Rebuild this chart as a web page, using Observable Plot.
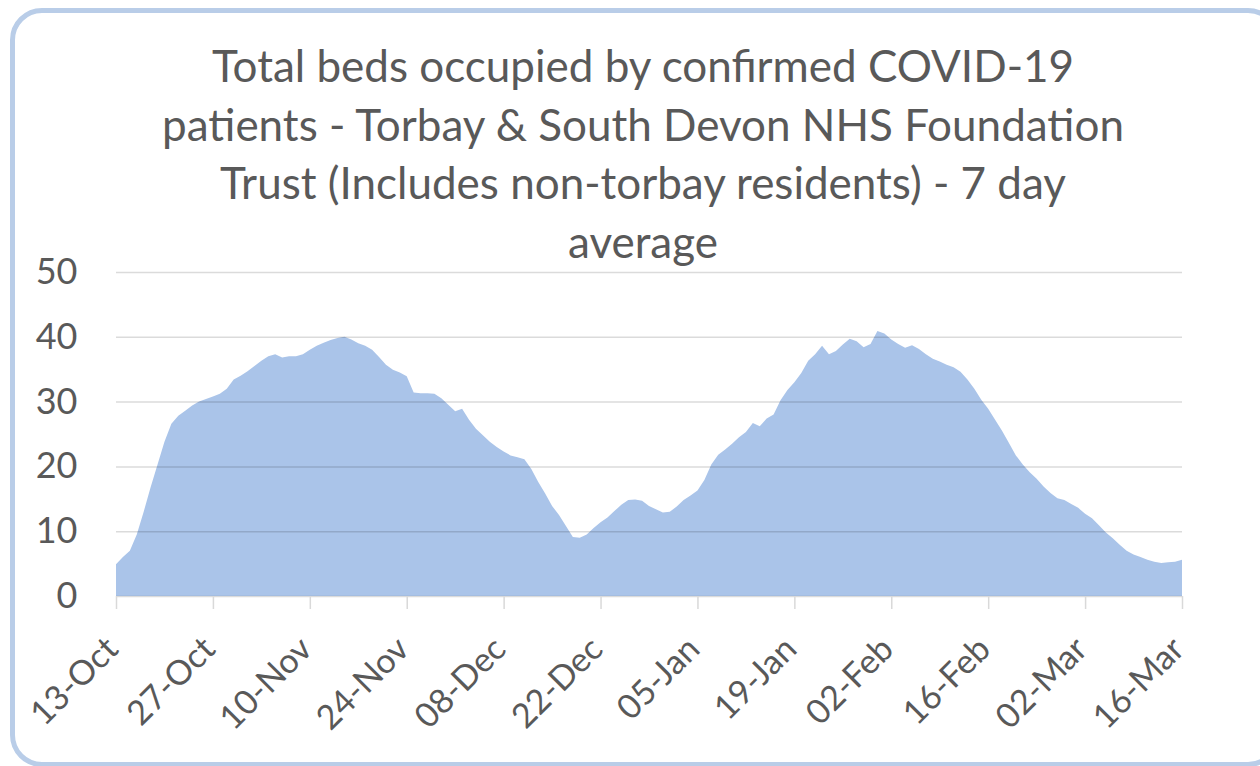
<!DOCTYPE html>
<html>
<head>
<meta charset="utf-8">
<script src="https://cdn.jsdelivr.net/npm/d3@7"></script>
<script src="https://cdn.jsdelivr.net/npm/@observablehq/plot@0.6"></script>
<style>
  html, body { margin: 0; padding: 0; background: #fff; }
  #wrap { position: relative; width: 1260px; height: 766px; overflow: hidden; font-family: Lato, "Open Sans", sans-serif; }
  #frame { position: absolute; left: 10px; top: 8px; width: 1260px; height: 749px; border: 5px solid #b9cde8; border-radius: 32px; box-sizing: content-box; }
  #title { position: absolute; left: 0; width: 1286px; top: 36px; text-align: center; font-size: 44px; line-height: 58.7px; color: #595959; }
  #chart { position: absolute; left: 0; top: 0; }
</style>
</head>
<body>
<div id="wrap">
  <div id="frame"></div>
  <div id="chart"></div>
  <div id="title">Total beds occupied by confirmed COVID-19<br>patients - Torbay &amp; South Devon NHS Foundation<br>Trust (Includes non-torbay residents) - 7 day<br>average</div>
</div>
<script>
// First date of the series (13-Oct-2020), one value per day
const startDate = "2020-10-13";
const values = [
  4.9, 6.0, 7.0, 9.5, 13.0, 16.8, 20.3, 23.8, 26.6, 27.8,
  28.6, 29.4, 30.0, 30.4, 30.8, 31.2, 32.0, 33.4, 34.0, 34.7,
  35.5, 36.3, 37.0, 37.3, 36.8, 37.0, 37.0, 37.3, 38.0, 38.6,
  39.1, 39.5, 39.8, 40.0, 39.6, 39.0, 38.6, 38.0, 36.9, 35.7,
  34.9, 34.5, 33.9, 31.4, 31.3, 31.3, 31.2, 30.5, 29.5, 28.5,
  28.9, 27.2, 25.8, 24.8, 23.8, 23.0, 22.3, 21.7, 21.4, 21.1,
  19.6, 17.6, 15.8, 13.9, 12.5, 10.8, 9.1, 9.0, 9.5, 10.5,
  11.4, 12.1, 13.1, 14.1, 14.8, 14.9, 14.7, 13.9, 13.4, 12.9,
  13.0, 13.8, 14.8, 15.5, 16.3, 17.9, 20.3, 21.8, 22.6, 23.5,
  24.5, 25.3, 26.7, 26.2, 27.4, 28.0, 30.2, 31.8, 33.0, 34.4,
  36.3, 37.3, 38.6, 37.3, 37.8, 38.8, 39.7, 39.3, 38.4, 38.9,
  40.9, 40.5, 39.6, 38.9, 38.3, 38.7, 38.1, 37.3, 36.6, 36.2,
  35.7, 35.3, 34.6, 33.4, 32.0, 30.3, 28.9, 27.2, 25.5, 23.6,
  21.7, 20.3, 19.1, 18.1, 16.9, 15.9, 15.1, 14.8, 14.2, 13.6,
  12.7, 12.0, 10.9, 9.8, 8.9, 7.9, 7.0, 6.4, 6.0, 5.6,
  5.3, 5.1, 5.2, 5.3, 5.6
];
const tickDates = [
  "2020-10-13", "2020-10-27", "2020-11-10", "2020-11-24", "2020-12-08", "2020-12-22",
  "2021-01-05", "2021-01-19", "2021-02-02", "2021-02-16", "2021-03-02", "2021-03-16"
];
const yTicks = [0, 10, 20, 30, 40, 50];

const start = new Date(startDate);
const data = values.map((v, i) => ({ date: d3.utcDay.offset(start, i), value: v }));
const ticks = tickDates.map(s => new Date(s));

const chart = Plot.plot({
  width: 1260,
  height: 766,
  marginLeft: 116,
  marginRight: 78,
  marginTop: 272,
  marginBottom: 170,
  style: { fontFamily: "Lato, 'Open Sans', sans-serif", color: "#595959", background: "transparent" },
  x: { type: "utc", domain: [data[0].date, data[data.length - 1].date] },
  y: { domain: [0, 50] },
  marks: [
    Plot.areaY(data, { x: "date", y: "value", fill: "#aac4e9" }),
    Plot.gridY(yTicks, { stroke: "#000", strokeOpacity: 0.14, strokeWidth: 1.5 }),
    Plot.axisY(yTicks, { tickSize: 0, tickPadding: 39, fontSize: 36, fill: "#595959", label: null }),
    Plot.axisX(ticks, { tickSize: 13, stroke: "#d9d9d9", strokeWidth: 1.5, tickFormat: () => "", label: null }),
    Plot.axisX(ticks, { tickSize: 0, tickRotate: -45, tickPadding: 30, dx: -4, dy: 17, fontSize: 34, fill: "#595959", tickFormat: d3.utcFormat("%d-%b"), label: null })
  ]
});
document.getElementById("chart").appendChild(chart);
</script>
</body>
</html>
